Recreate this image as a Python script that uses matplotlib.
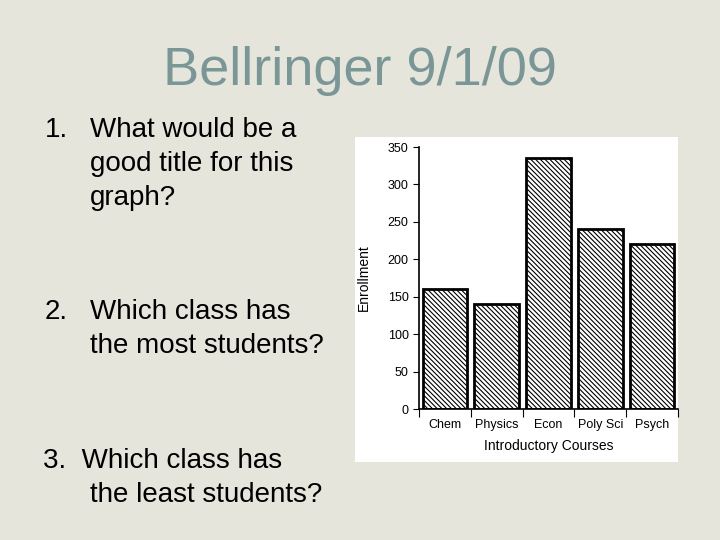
import matplotlib.pyplot as plt

courses = ['Chem', 'Physics', 'Econ', 'Poly Sci', 'Psych']
enrollment = [160, 140, 335, 240, 220]
yticks = [0, 50, 100, 150, 200, 250, 300, 350]

plt.rcParams['font.family'] = ['Liberation Sans', 'DejaVu Sans']
plt.rcParams['hatch.linewidth'] = 0.8

fig = plt.figure(figsize=(7.2, 5.4), dpi=100)
fig.patch.set_facecolor('#e5e5dc')

# slide title and questions
fig.text(0.5, 1 - 71 / 540, 'Bellringer 9/1/09', fontsize=39, color='#7b9696',
         ha='center', va='center')
qsize = 20
fig.text(45 / 720, 1 - 130 / 540, '1.', fontsize=qsize, va='center')
fig.text(90 / 720, 1 - 130 / 540, 'What would be a', fontsize=qsize, va='center')
fig.text(90 / 720, 1 - 164 / 540, 'good title for this', fontsize=qsize, va='center')
fig.text(90 / 720, 1 - 198 / 540, 'graph?', fontsize=qsize, va='center')
fig.text(45 / 720, 1 - 312 / 540, '2.', fontsize=qsize, va='center')
fig.text(90 / 720, 1 - 312 / 540, 'Which class has', fontsize=qsize, va='center')
fig.text(90 / 720, 1 - 346 / 540, 'the most students?', fontsize=qsize, va='center')
fig.text(43 / 720, 1 - 461 / 540, '3.  Which class has', fontsize=qsize, va='center')
fig.text(90 / 720, 1 - 495 / 540, 'the least students?', fontsize=qsize, va='center')

# white chart panel
panel = fig.add_axes([355 / 720, 1 - 462 / 540, 323 / 720, 325 / 540])
panel.set_facecolor('white')
panel.set_xticks([])
panel.set_yticks([])
for s in panel.spines.values():
    s.set_visible(False)

ax = fig.add_axes([419 / 720, 1 - 409 / 540, 259 / 720, 262 / 540])
ax.set_facecolor('none')
x = range(len(courses))
ax.bar(x, enrollment, width=0.86, facecolor='white', edgecolor='black',
       linewidth=2, hatch='\\\\\\\\\\\\\\')
ax.set_xlim(-0.5, 4.5)
ax.set_ylim(0, 350)
ax.set_yticks(yticks)
ax.set_yticklabels([str(v) for v in yticks], fontsize=9)
ax.set_xticks([i - 0.5 for i in range(len(courses) + 1)])
ax.set_xticklabels([])
ax.set_xticks(list(x), minor=True)
ax.set_xticklabels(courses, minor=True, fontsize=9)
ax.tick_params(axis='x', which='minor', length=0, pad=7)
ax.tick_params(axis='x', which='major', length=6, direction='out')
ax.tick_params(axis='y', length=4, direction='out')
for s in ['top', 'right']:
    ax.spines[s].set_visible(False)
ax.spines['left'].set_linewidth(1.2)
ax.spines['bottom'].set_linewidth(1.2)
ax.set_ylabel('Enrollment', fontsize=10, labelpad=12)
ax.set_xlabel('Introductory Courses', fontsize=10, labelpad=6)

fig.savefig('out.png', dpi=100, facecolor=fig.get_facecolor())
